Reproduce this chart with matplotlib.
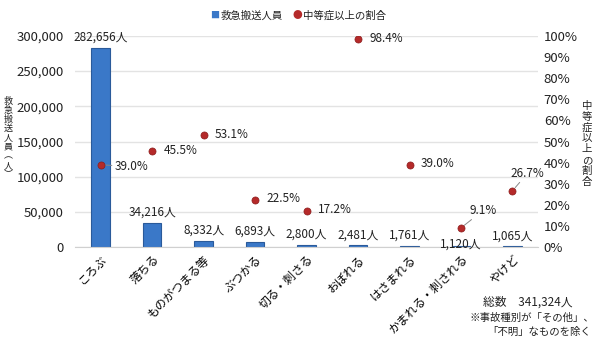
import matplotlib
matplotlib.use("Agg")
import matplotlib.pyplot as plt
import numpy as np

plt.rcParams['font.family'] = ['Noto Sans CJK JP', 'DejaVu Sans']

categories = ["ころぶ", "落ちる", "ものがつまる等", "ぶつかる", "切る・刺さる",
              "おぼれる", "はさまれる", "かまれる・刺される", "やけど"]
persons = [282656, 34216, 8332, 6893, 2800, 2481, 1761, 1120, 1065]
ratio = [39.0, 45.5, 53.1, 22.5, 17.2, 98.4, 39.0, 9.1, 26.7]

# label offsets in points (style only)
bar_lbl_off = [(0, 3), (0, 3), (0, 3), (0, 3), (0, 3), (0, 3), (0, 3), (0, -3), (0, 3)]
pct_lbl_off = [(10, -6), (8, -4), (8, -4), (8, -4), (8, -4), (8, -4), (8, -4), (16, 8), (11, 8)]
pct_leader = [True, False, False, False, False, False, False, True, True]

fig = plt.figure(figsize=(6.0, 3.39), dpi=100)
ax = fig.add_axes([0.125, 0.271, 0.772, 0.623])
ax2 = ax.twinx()

x = np.arange(len(categories))
ax.bar(x, persons, width=0.36, color="#3a78c8", edgecolor="#2a5a9a", linewidth=0.8, zorder=2)
ax.set_xlim(-0.5, len(categories) - 0.5)
ax.set_ylim(0, 300000)
ax.set_yticks(np.arange(0, 300001, 50000))
ax.yaxis.set_major_formatter(matplotlib.ticker.FuncFormatter(lambda v, p: f"{int(v):,}"))
ax.grid(axis="y", color="#e3e3e3", linewidth=1, zorder=0)
ax.set_axisbelow(True)
ax.tick_params(axis="y", length=0, labelsize=9.5, pad=8, colors="#222222")
ax.set_xticks(x)
ax.set_xticklabels(categories, rotation=45, ha="right", rotation_mode="anchor", fontsize=8.5)
ax.tick_params(axis="x", length=0, pad=4)
for s in ["top", "right", "left"]:
    ax.spines[s].set_visible(False)
ax.spines["bottom"].set_color("#d0d0d0")

for i, v in enumerate(persons):
    ax.annotate(f"{v:,}人", (x[i], v), xytext=bar_lbl_off[i], textcoords="offset points",
                ha="center", va="bottom", fontsize=8.5, color="#222222")

ax2.scatter(x, ratio, s=26, color="#b52a2a", edgecolors="#8a1c1c", linewidths=0.5, zorder=5)
ax2.set_ylim(0, 100)
ax2.set_yticks(np.arange(0, 101, 10))
ax2.set_yticklabels([f"{t}%" for t in range(0, 101, 10)])
ax2.tick_params(axis="y", length=0, labelsize=9.5, pad=4, colors="#222222")
for s in ["top", "right", "left", "bottom"]:
    ax2.spines[s].set_visible(False)

for i, r in enumerate(ratio):
    if pct_leader[i] and i > 0:
        ax2.annotate(f"{r:.1f}%", (x[i], r), xytext=pct_lbl_off[i], textcoords="offset points",
                     ha="center", va="bottom", fontsize=8.5, color="#222222",
                     arrowprops=dict(arrowstyle="-", color="#888888", lw=0.7, shrinkA=0, shrinkB=3))
    elif pct_leader[i]:
        ax2.annotate(f"{r:.1f}%", (x[i], r), xytext=pct_lbl_off[i], textcoords="offset points",
                     ha="left", va="bottom", fontsize=8.5, color="#222222",
                     arrowprops=dict(arrowstyle="-", color="#888888", lw=0.7, shrinkA=0, shrinkB=3))
    else:
        ax2.annotate(f"{r:.1f}%", (x[i], r), xytext=pct_lbl_off[i], textcoords="offset points",
                     ha="left", va="bottom", fontsize=8.5, color="#222222")

# vertical axis titles, one character per line
left_title = "救急搬送人員︵人︶"
for k, ch in enumerate(left_title):
    fig.text(8 / 600, 1 - (101 + k * 9.2) / 339, ch, ha="center", va="center",
             fontsize=6.5, color="#222222")
right_title = "中等症以上の割合"
for k, ch in enumerate(right_title):
    fig.text(587 / 600, 1 - (106 + k * 10.8) / 339, ch, ha="center", va="center",
             fontsize=7.5, color="#222222")

# legend
fig.text(0.365, 0.955, "■", color="#3a78c8", fontsize=6.5, ha="right", va="center")
fig.text(0.367, 0.955, "救急搬送人員", fontsize=7.5, ha="left", va="center", color="#222222")
fig.text(0.503, 0.955, "●", color="#b52a2a", fontsize=7, ha="right", va="center")
fig.text(0.505, 0.955, "中等症以上の割合", fontsize=7.5, ha="left", va="center", color="#222222")

# notes
fig.text(0.805, 0.108, "総数　341,324人", fontsize=8.5, ha="left", va="center", color="#222222")
fig.text(0.99, 0.062, "※事故種別が「その他」、", fontsize=7.5, ha="right", va="center", color="#222222")
fig.text(0.985, 0.02, "「不明」なものを除く", fontsize=7.5, ha="right", va="center", color="#222222")

fig.savefig("out.png", dpi=100)
